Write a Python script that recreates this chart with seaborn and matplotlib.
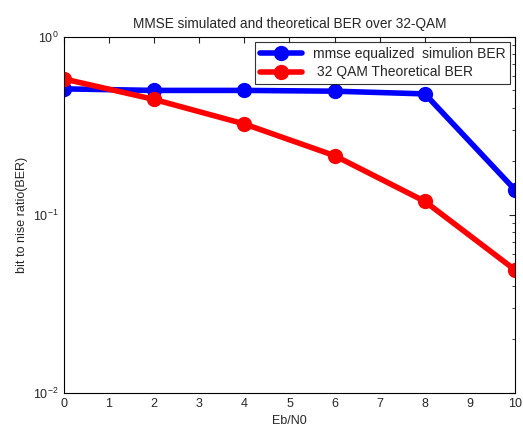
import pandas as pd
import matplotlib
matplotlib.use('Agg')
import matplotlib.pyplot as plt
import seaborn as sns

# dados
ebn0 = [0, 2, 4, 6, 8, 10]
ber_mmse = [0.51, 0.50, 0.50, 0.495, 0.478, 0.138]
ber_teorico = [0.58, 0.445, 0.324, 0.215, 0.119, 0.049]
nomes = ['mmse equalized  simulion BER', ' 32 QAM Theoretical BER']
cores = ['#0000ff', '#ff0000']

df = pd.DataFrame({
    'ebn0': ebn0 * 2,
    'ber': ber_mmse + ber_teorico,
    'serie': [nomes[0]] * len(ebn0) + [nomes[1]] * len(ebn0),
})

sns.set_style('white')
plt.rcParams['font.family'] = ['Liberation Sans', 'DejaVu Sans']
plt.rcParams['font.size'] = 9

fig = plt.figure(figsize=(5.23, 4.28), dpi=100)
ax = fig.add_axes([0.122, 0.082, 0.863, 0.832])
sns.lineplot(data=df, x='ebn0', y='ber', hue='serie', palette=cores,
             marker='o', markersize=11, markeredgewidth=0, linewidth=4,
             ax=ax)
ax.set_yscale('log')
ax.set_xlim(0, 10)
ax.set_ylim(1e-2, 1e0)
ax.set_xticks(range(0, 11))
ax.tick_params(which='both', direction='in', top=True, right=True, labelsize=9)
ax.tick_params(which='major', length=4)
ax.tick_params(which='minor', length=2)
for s in ax.spines.values():
    s.set_color('black')
    s.set_linewidth(0.8)
ax.set_title('MMSE simulated and theoretical BER over 32-QAM', fontsize=9.8)
ax.set_xlabel('Eb/N0', fontsize=9)
ax.set_ylabel('bit to nise ratio(BER)', fontsize=9)
leg = ax.legend(loc='upper right', fontsize=10, frameon=True, fancybox=False,
                edgecolor='black', borderaxespad=0.35, handlelength=3.0,
                borderpad=0.35, labelspacing=0.35)
leg.get_frame().set_linewidth(0.8)
fig.savefig('out.png', dpi=100)
